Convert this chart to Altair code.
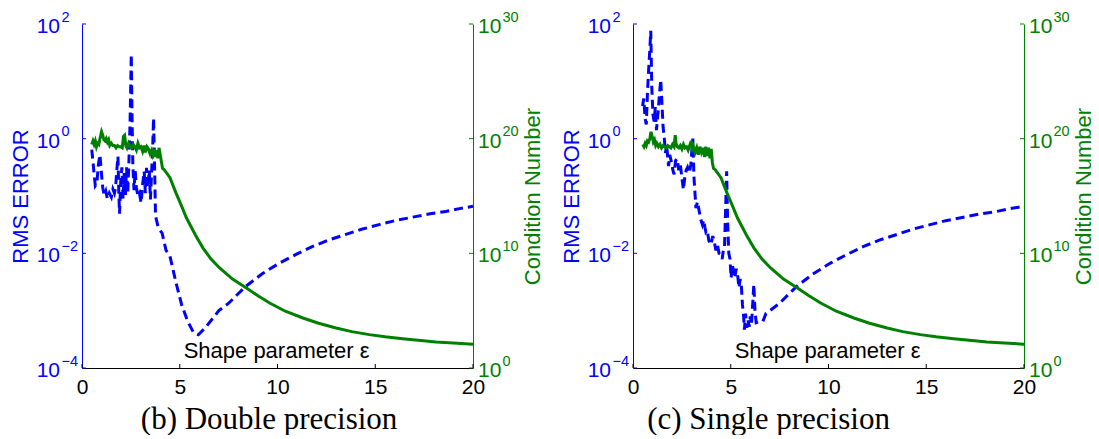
import altair as alt
import pandas as pd

BLUE = "#0000ff"
GREEN = "#008000"
SANS = "Liberation Sans"
SERIF = "Liberation Serif"
W, H = 391, 344

# ---- RMS error vs shape parameter (log10 of the error) ----
dbl_err_eps = [0.50, 0.56, 0.62, 0.68, 0.76, 0.84, 0.92, 0.98, 1.06, 1.14, 1.22, 1.30,
               1.40, 1.50, 1.58, 1.66, 1.72, 1.78, 1.84, 1.88, 1.92, 1.98, 2.04, 2.10,
               2.16, 2.22, 2.28, 2.34, 2.40, 2.46, 2.52, 2.56, 2.60, 2.66, 2.72, 2.78,
               2.86, 2.94, 3.02, 3.10, 3.18, 3.24, 3.30, 3.36, 3.44, 3.50, 3.56, 3.62,
               3.66, 3.72, 3.76, 3.90, 4.10, 4.30, 4.50, 4.80, 5.10, 5.40, 5.70, 5.95,
               6.30, 6.70]
dbl_err_log = [-0.19, -0.40, -0.62, -0.82, -0.78, -0.45, -0.28, -0.55, -0.85, -1.00, -0.92, -1.05,
               -0.95, -1.02, -0.88, -0.95, -0.85, -0.55, -0.31, -0.90, -1.31, -0.75, -0.50, -1.05,
               -0.60, -0.98, -0.50, -0.95, -0.40, 0.30, 1.47, 0.40, -0.45, -0.90, -0.55, -0.85,
               -1.00, -0.95, -1.12, -0.80, -0.57, -0.95, -0.51, -0.85, -0.55, -1.06, -0.60, -0.10,
               0.36, -0.60, -1.35, -1.55, -1.65, -1.95, -2.05, -2.50, -2.90, -3.18, -3.38, -3.42,
               -3.30, -3.13]

sgl_err_eps = [0.49, 0.55, 0.62, 0.68, 0.74, 0.80, 0.86, 0.91, 0.96, 1.02, 1.08, 1.14,
               1.20, 1.28, 1.36, 1.42, 1.48, 1.54, 1.60, 1.66, 1.72, 1.78, 1.82, 1.88,
               1.96, 2.04, 2.10, 2.18, 2.26, 2.34, 2.42, 2.50, 2.58, 2.64, 2.72, 2.79,
               2.88, 2.96, 3.02, 3.06, 3.12, 3.18, 3.22, 3.30, 3.39, 3.46, 3.55, 3.62,
               3.68, 3.73, 3.80, 3.88, 3.98, 4.08, 4.16, 4.24, 4.32, 4.40, 4.49, 4.56,
               4.62, 4.68, 4.74, 4.79, 4.84, 4.90, 4.96, 5.02, 5.08, 5.14, 5.20, 5.28,
               5.36, 5.42, 5.48, 5.54, 5.60, 5.66, 5.70, 5.76, 5.82, 5.88, 5.94, 6.00,
               6.06, 6.12, 6.18, 6.24, 6.30, 6.40, 6.52, 6.64, 6.80]
sgl_err_log = [0.57, 0.70, 0.35, 0.25, 0.80, 1.20, 1.55, 1.88, 0.90, 0.42, 0.30, 0.55,
               0.15, 0.45, 0.80, 1.03, 0.62, 0.20, 0.01, -0.25, -0.10, -0.35, -0.48, -0.28,
               -0.40, -0.55, -0.62, -0.38, -0.35, -0.55, -0.45, -0.68, -0.89, -0.70, -0.55, -0.50,
               -0.60, -0.45, -0.15, 0.00, -0.68, -1.00, -1.21, -1.10, -1.27, -1.40, -1.50, -1.42,
               -1.55, -1.63, -1.60, -1.78, -1.85, -1.70, -1.80, -1.95, -1.85, -2.00, -2.02, -2.10,
               -1.95, -1.90, -1.20, -0.57, -1.45, -2.00, -2.10, -2.43, -2.20, -2.30, -2.43, -2.27,
               -2.40, -2.60, -2.45, -2.55, -2.90, -3.10, -3.33, -3.05, -3.30, -3.15, -3.28, -3.10,
               -3.25, -2.90, -2.54, -3.00, -3.21, -3.20, -3.19, -3.19, -3.05]

# smooth recovery of the error at large shape parameter (both precisions)
err_tail_eps = [7.0, 7.5, 8.0, 8.4, 9.2, 10.1, 11.0, 11.8, 12.6, 13.5, 14.3, 15.2,
                16.0, 16.9, 17.8, 18.6, 19.3, 20.0]
err_tail_log = [-3.00, -2.87, -2.70, -2.57, -2.36, -2.17, -2.01, -1.88, -1.77, -1.67, -1.58, -1.50,
                -1.43, -1.37, -1.31, -1.27, -1.22, -1.18]

# ---- condition number vs shape parameter (log10) ----
dbl_cond_eps = [0.50, 0.56, 0.62, 0.68, 0.74, 0.80, 0.86, 0.92, 1.00, 1.06, 1.12, 1.18,
                1.24, 1.30, 1.36, 1.42, 1.50, 1.58, 1.66, 1.74, 1.82, 1.90, 1.98, 2.06,
                2.12, 2.18, 2.24, 2.30, 2.38, 2.46, 2.54, 2.62, 2.70, 2.78, 2.86, 2.94,
                3.02, 3.10, 3.18, 3.24, 3.32, 3.40, 3.48, 3.56, 3.62, 3.70, 3.76, 3.82,
                3.88, 3.94, 4.00, 4.06, 4.12]
dbl_cond_log = [19.5, 19.8, 19.5, 19.8, 19.3, 19.6, 19.5, 20.0, 20.6, 20.3, 19.9, 19.8,
                20.0, 19.7, 19.9, 19.4, 19.6, 19.4, 19.4, 19.2, 19.4, 19.3, 19.3, 19.2,
                20.2, 20.3, 19.4, 19.2, 19.6, 19.3, 19.2, 19.5, 19.3, 19.0, 19.6, 19.2,
                19.3, 18.9, 19.4, 18.8, 19.3, 19.1, 18.7, 19.0, 18.6, 19.1, 18.4, 19.0,
                18.3, 19.2, 18.6, 18.0, 17.4]

sgl_cond_eps = [0.50, 0.56, 0.62, 0.68, 0.74, 0.80, 0.86, 0.92, 0.98, 1.04, 1.10, 1.16,
                1.22, 1.30, 1.38, 1.46, 1.54, 1.62, 1.70, 1.78, 1.86, 1.94, 2.02, 2.10,
                2.16, 2.20, 2.26, 2.34, 2.42, 2.50, 2.58, 2.66, 2.74, 2.82, 2.90, 2.98,
                3.04, 3.10, 3.18, 3.26, 3.34, 3.42, 3.50, 3.58, 3.66, 3.72, 3.78, 3.86,
                3.94, 4.00, 4.06, 4.12]
sgl_cond_log = [19.5, 19.3, 19.6, 19.4, 19.8, 19.7, 20.0, 20.6, 20.2, 19.7, 19.9, 19.4,
                19.6, 19.3, 19.5, 19.2, 19.4, 19.3, 19.2, 19.4, 19.3, 19.2, 19.5, 19.3,
                20.3, 19.6, 19.3, 19.2, 19.4, 19.1, 19.5, 19.2, 19.3, 19.0, 19.4, 19.8,
                19.1, 19.3, 18.8, 19.2, 18.6, 19.3, 18.8, 19.2, 18.4, 19.3, 18.5, 19.2,
                18.3, 19.1, 17.9, 17.4]

cond_tail_eps = [4.20, 4.50, 4.80, 5.10, 5.34, 5.80, 6.19, 6.60, 7.04, 7.70, 8.41, 9.00,
                 9.60, 10.4, 11.3, 12.1, 13.0, 13.8, 14.7, 15.5, 16.4, 17.2, 18.1, 19.0, 20.0]
cond_tail_log = [17.3, 16.6, 15.3, 14.1, 13.1, 11.6, 10.46, 9.5, 8.72, 7.75, 6.97, 6.3,
                 5.67, 4.95, 4.36, 3.9, 3.49, 3.17, 2.91, 2.72, 2.56, 2.41, 2.27, 2.17, 2.08]

# ---- axis tick values and exponent labels ----
x_ticks = [0, 5, 10, 15, 20]
err_ticks = [1e-4, 1e-2, 1e0, 1e2]
err_exps = ["\u22124", "\u22122", "0", "2"]
cond_ticks = [1e0, 1e10, 1e20, 1e30]
cond_exps = ["0", "10", "20", "30"]

x_scale = alt.Scale(domain=[0, 20], nice=False, zero=False)
err_scale = alt.Scale(type="log", domain=[1e-4, 1e2], nice=False)
cond_scale = alt.Scale(type="log", domain=[1e0, 1e30], nice=False)

# one axis definition per channel, reused by every layer that shares it
x_axis = alt.Axis(values=x_ticks, title=None, grid=False, ticks=False, tickSize=0,
                  labelFont=SANS, labelFontSize=21, labelColor="black",
                  labelBaseline="alphabetic", labelPadding=25, labelFlush=False,
                  labelOverlap=False, domainColor="black", domainWidth=1)
err_axis = alt.Axis(orient="left", labels=False, ticks=False, tickSize=0, grid=False,
                    domainColor=BLUE, domainWidth=1, title="RMS ERROR", titleColor=BLUE,
                    titleFont=SANS, titleFontSize=22, titleFontWeight="normal",
                    titleAngle=270, titleX=-62, titleY=172, titleAlign="center",
                    titleBaseline="middle")
cond_axis = alt.Axis(orient="right", labels=False, ticks=False, tickSize=0, grid=False,
                     domainColor=GREEN, domainWidth=1, title="Condition Number",
                     titleColor=GREEN, titleFont=SANS, titleFontSize=22,
                     titleFontWeight="normal", titleAngle=270, titleX=59, titleY=172,
                     titleAlign="center", titleBaseline="middle")


def log_frame(eps, logs, col):
    return pd.DataFrame({"eps": eps, col: [10.0 ** v for v in logs]})


def panel(err_eps, err_log, cond_eps, cond_log, caption, caption_dx):
    err_df = log_frame(err_eps + err_tail_eps, err_log + err_tail_log, "rms")
    cond_df = log_frame(cond_eps + cond_tail_eps, cond_log + cond_tail_log, "cn")

    err_line = alt.Chart(err_df).mark_line(
        color=BLUE, strokeWidth=3, strokeDash=[9, 5]
    ).encode(
        x=alt.X("eps:Q", scale=x_scale, axis=x_axis),
        y=alt.Y("rms:Q", scale=err_scale, axis=err_axis),
    )

    err_lab = pd.DataFrame({"v": err_ticks, "e": err_exps})
    err_base = alt.Chart(err_lab).mark_text(
        text="10", align="right", baseline="alphabetic", dy=9,
        font=SANS, fontSize=21, color=BLUE
    ).encode(x=alt.value(-22), y=alt.Y("v:Q", scale=err_scale, axis=err_axis))
    err_exp = alt.Chart(err_lab).mark_text(
        align="left", baseline="alphabetic", dy=-2.5, font=SANS, fontSize=14.5, color=BLUE
    ).encode(x=alt.value(-20.5), y=alt.Y("v:Q", scale=err_scale, axis=err_axis), text="e:N")
    err_tk = alt.Chart(err_lab).mark_rule(color=BLUE, strokeWidth=1).encode(
        x=alt.value(0), x2=alt.value(4), y=alt.Y("v:Q", scale=err_scale, axis=err_axis))

    x_tk = alt.Chart(pd.DataFrame({"t": x_ticks})).mark_rule(
        color="black", strokeWidth=1
    ).encode(x=alt.X("t:Q", scale=x_scale, axis=x_axis), y=alt.value(H), y2=alt.value(H - 4))

    shape_lbl = alt.Chart(pd.DataFrame({"s": ["Shape parameter \u03b5"]})).mark_text(
        align="left", baseline="alphabetic", font=SANS, fontSize=22, color="black"
    ).encode(x=alt.X(datum=5.2, scale=x_scale, axis=x_axis), y=alt.value(H - 10), text="s:N")

    cond_line = alt.Chart(cond_df).mark_line(color=GREEN, strokeWidth=3).encode(
        x=alt.X("eps:Q", scale=x_scale, axis=x_axis),
        y=alt.Y("cn:Q", scale=cond_scale, axis=cond_axis),
    )

    cond_lab = pd.DataFrame({"v": cond_ticks, "e": cond_exps})
    cond_base = alt.Chart(cond_lab).mark_text(
        text="10", align="left", baseline="alphabetic", dy=9,
        font=SANS, fontSize=21, color=GREEN
    ).encode(x=alt.value(W + 5), y=alt.Y("v:Q", scale=cond_scale, axis=cond_axis))
    cond_exp = alt.Chart(cond_lab).mark_text(
        align="left", baseline="alphabetic", dy=-2.5, font=SANS, fontSize=14.5, color=GREEN
    ).encode(x=alt.value(W + 29.5), y=alt.Y("v:Q", scale=cond_scale, axis=cond_axis), text="e:N")
    cond_tk = alt.Chart(cond_lab).mark_rule(color=GREEN, strokeWidth=1).encode(
        x=alt.value(W), x2=alt.value(W - 4), y=alt.Y("v:Q", scale=cond_scale, axis=cond_axis))

    err_group = alt.layer(err_line, err_base, err_exp, err_tk, x_tk, shape_lbl)
    cond_group = alt.layer(cond_line, cond_base, cond_exp, cond_tk)

    return alt.layer(err_group, cond_group).resolve_scale(y="independent").properties(
        width=W, height=H,
        title=alt.TitleParams(
            text=caption, orient="bottom", anchor="middle", frame="group",
            baseline="alphabetic", offset=32, dx=caption_dx,
            font=SERIF, fontSize=31, fontWeight="normal", color="black"),
    )


left = panel(dbl_err_eps, dbl_err_log, dbl_cond_eps, dbl_cond_log, "(b) Double precision", -8.4)
right = panel(sgl_err_eps, sgl_err_log, sgl_cond_eps, sgl_cond_log, "(c) Single precision", -60)

chart = alt.hconcat(left, right, spacing=160, bounds="flush").properties(
    padding={"left": 9, "top": 9, "right": 0, "bottom": 0},
    background="white",
).configure_view(strokeWidth=0)

chart.save("out.html", embed_options={"renderer": "svg", "actions": False})
